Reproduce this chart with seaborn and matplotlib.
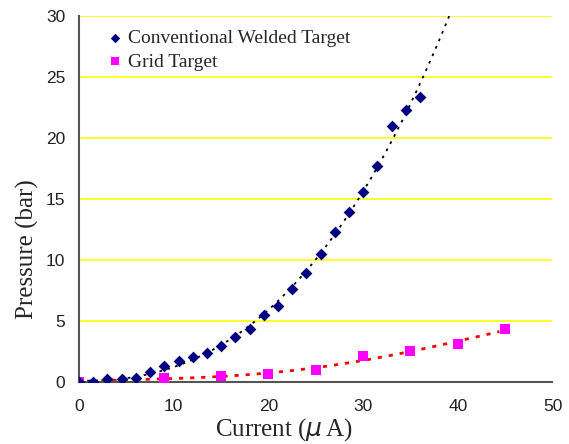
import numpy as np
import pandas as pd
import matplotlib
matplotlib.use("Agg")
import matplotlib.pyplot as plt
import seaborn as sns

# Data
conv_current = [0, 1.5, 3, 4.5, 6, 7.5, 9, 10.5, 12, 13.5, 15, 16.5, 18, 19.5, 21,
                22.5, 24, 25.5, 27, 28.5, 30, 31.5, 33, 34.5, 36]
conv_pressure = [0.0, -0.05, 0.22, 0.22, 0.3, 0.8, 1.33, 1.7, 2.0, 2.35, 2.9, 3.7, 4.35,
                 5.45, 6.2, 7.65, 8.9, 10.45, 12.25, 13.9, 15.6, 17.7, 20.95, 22.25, 23.35]
grid_current = [0, 9, 15, 20, 25, 30, 35, 40, 45]
grid_pressure = [0.0, 0.33, 0.44, 0.63, 0.98, 2.08, 2.54, 3.09, 4.32]

legend_labels = ["Conventional Welded Target", "Grid Target"]
x_ticks = [0, 10, 20, 30, 40, 50]
y_ticks = [0, 5, 10, 15, 20, 25, 30]

sns.set_style("white")
plt.rcParams['font.family'] = ['Liberation Sans', 'DejaVu Sans']

fig = plt.figure(figsize=(5.69, 4.44), dpi=100)
ax = fig.add_axes([0.139, 0.140, 0.832, 0.824])

# Horizontal yellow gridlines
for yv in y_ticks[1:]:
    ax.axhline(yv, color="#ffff00", lw=1.2, zorder=0)

# Trendlines (polynomial fits of the data)
cc = np.array(conv_current); cp = np.array(conv_pressure)
c_fit = np.polyfit(cc, cp, 3)
xc = np.linspace(0, 40, 300)
ax.plot(xc, np.polyval(c_fit, xc), color="black", lw=1.3, ls=(0, (1.5, 3)), zorder=2)

gc = np.array(grid_current); gp = np.array(grid_pressure)
g_fit = np.polyfit(gc, gp, 4)
xg = np.linspace(0, 44.4, 300)
ax.plot(xg, np.polyval(g_fit, xg), color="red", lw=2.0, ls=(0, (1.5, 2.5)), zorder=2)

df_c = pd.DataFrame({"x": conv_current, "y": conv_pressure})
df_g = pd.DataFrame({"x": grid_current, "y": grid_pressure})
sns.scatterplot(data=df_g, x="x", y="y", ax=ax, marker="s", s=42, color="#ff00ff",
                edgecolor="#ff00ff", linewidth=0, label=legend_labels[1], zorder=3)
sns.scatterplot(data=df_c, x="x", y="y", ax=ax, marker="D", s=36, color="#000080",
                edgecolor="#000080", linewidth=0, label=legend_labels[0], zorder=4)

ax.set_xlim(0, 50)
ax.set_ylim(0, 30)
ax.set_xticks(x_ticks)
ax.set_yticks(y_ticks)
ax.tick_params(axis="both", direction="in", length=5, width=1, labelsize=12.5,
               colors="#333333")
ax.tick_params(axis="x", pad=12)
ax.tick_params(axis="y", pad=10)
ax.tick_params(axis="both", labelcolor="#222222")
for s in ["top", "right"]:
    ax.spines[s].set_visible(False)
for s in ["left", "bottom"]:
    ax.spines[s].set_color("#555555")
    ax.spines[s].set_linewidth(1.5)

ax.set_xlabel("Current ($\\mu\\,$A)", family="Liberation Serif", fontsize=18)
ax.set_ylabel("Pressure (bar)", family="Liberation Serif", fontsize=18)
ax.xaxis.set_label_coords(0.433, -0.093)
ax.yaxis.set_label_coords(-0.085, 0.363)

handles, labels = ax.get_legend_handles_labels()
order = [labels.index(legend_labels[0]), labels.index(legend_labels[1])]
leg = ax.legend([handles[i] for i in order], [labels[i] for i in order],
                loc="upper left", bbox_to_anchor=(0.064, 0.963), frameon=False,
                borderaxespad=0, borderpad=0,
                prop={"family": "Liberation Serif", "size": 14},
                handlelength=0.6, handletextpad=0.35, labelspacing=0.3,
                markerscale=0.8)

fig.savefig("out.png", dpi=100)
